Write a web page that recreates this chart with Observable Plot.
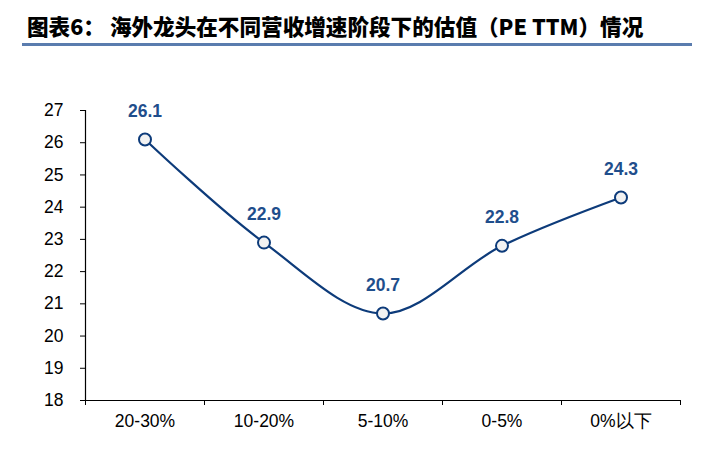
<!DOCTYPE html>
<html><head><meta charset="utf-8">
<script src="https://cdn.jsdelivr.net/npm/d3@7"></script>
<script src="https://cdn.jsdelivr.net/npm/@observablehq/plot@0.6"></script>
<style>
body{margin:0;background:#fff;}
#wrap{position:relative;width:701px;height:458px;}
#title{position:absolute;left:27px;top:13px;font-family:"Noto Sans CJK SC",sans-serif;font-weight:900;font-size:21.6px;line-height:26px;color:#000;white-space:nowrap;}
#rule{position:absolute;left:22px;top:43px;width:670px;height:3px;background:#5a7cae;}
#chart{position:absolute;left:0;top:0;}
</style></head>
<body><div id="wrap"><div id="chart"></div><div id="title">图表6： 海外龙头在不同营收增速阶段下的估值（PE TTM）情况</div><div id="rule"></div></div>
<script>
const categories = ["20-30%","10-20%","5-10%","0-5%","0%以下"];
const values = [26.1, 22.9, 20.7, 22.8, 24.3];
const yTicks = [18,19,20,21,22,23,24,25,26,27];

const data = categories.map((c,i)=>({c, pos:i+0.5, v:values[i]}));
const blue = "#0d3b7a";
const font = "'Liberation Sans', Arial, sans-serif";

const chart = Plot.plot({
  width:701, height:458,
  marginLeft:85, marginRight:21, marginTop:110, marginBottom:58,
  style:{fontFamily:font, fontSize:"17.5px", color:"#000", background:"transparent"},
  x:{domain:[0,categories.length], axis:null},
  y:{domain:[18,27], axis:null},
  marks:[
    Plot.axisY({ticks:yTicks, tickSize:5, tickPadding:17, tickFormat:d=>d, fontSize:17.5, label:null}),
    Plot.axisX({ticks:d3.range(0,categories.length+1), tickSize:5, tickFormat:()=>"", label:null}),
    Plot.axisX({ticks:data.map(d=>d.pos), tickSize:0, tickPadding:14, tickFormat:p=>categories[Math.round(p-0.5)], fontSize:17.5, label:null}),
    Plot.ruleX([0],{stroke:"#000", strokeWidth:1.2}),
    Plot.ruleY([18],{stroke:"#000", strokeWidth:1.2}),
    Plot.line(data,{x:"pos", y:"v", curve:"catmull-rom", stroke:blue, strokeWidth:2.2}),
    Plot.dot(data,{x:"pos", y:"v", r:6, fill:"#f2f2f2", stroke:blue, strokeWidth:2}),
    Plot.text(data,{x:"pos", y:"v", text:d=>d.v.toFixed(1), dy:-28, fill:"#1f4e8c", fontWeight:"bold", fontSize:17.5})
  ]
});
document.getElementById("chart").appendChild(chart);
</script></body></html>
